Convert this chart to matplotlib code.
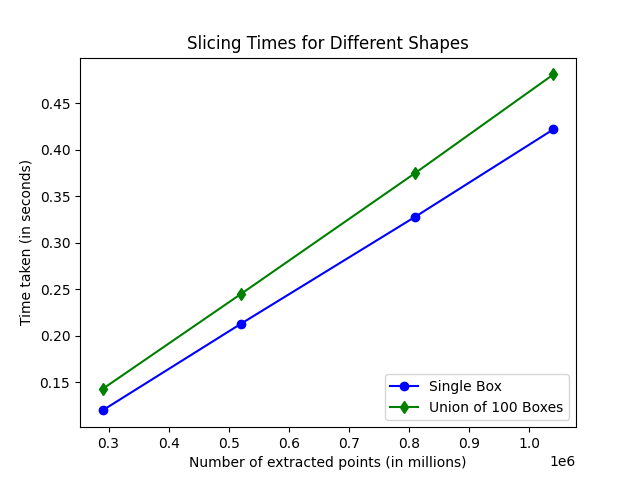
import matplotlib

matplotlib.use("Agg")
import matplotlib.pyplot as plt

points = [290000, 520000, 810000, 1040000]
single_box = [0.120, 0.213, 0.328, 0.422]
union_boxes = [0.143, 0.245, 0.375, 0.481]

fig, ax = plt.subplots(figsize=(6.4, 4.8), dpi=100)
ax.plot(points, single_box, "o-", color="blue", label="Single Box")
ax.plot(points, union_boxes, "d-", color="green", label="Union of 100 Boxes")
ax.set_xlabel("Number of extracted points (in millions)")
ax.set_ylabel("Time taken (in seconds)")
ax.set_title("Slicing Times for Different Shapes")
ax.legend(loc="lower right")
fig.savefig("out.png")
plt.close(fig)
